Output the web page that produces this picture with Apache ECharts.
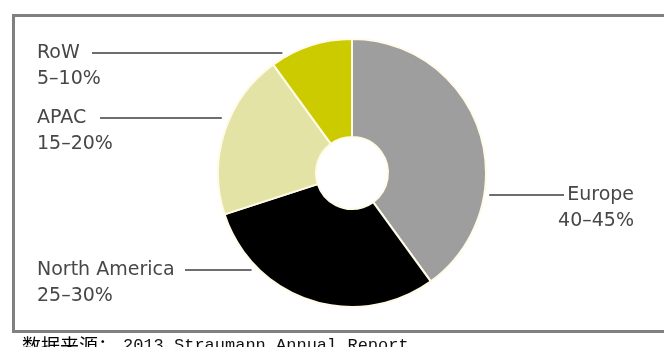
<!DOCTYPE html>
<html>
<head>
<meta charset="utf-8">
<script src="https://cdn.jsdelivr.net/npm/echarts@6/dist/echarts.min.js"></script>
<style>
  html, body { margin: 0; padding: 0; background: #ffffff; }
  #chart { width: 664px; height: 347px; }
</style>
</head>
<body>
<div id="chart"></div>
<script>
// Regional revenue split (clockwise from 12 o'clock)
const regions = ['Europe', 'North America', 'APAC', 'RoW'];
const shares = [40, 30, 20, 10];
const shareRanges = ['40–45%', '25–30%', '15–20%', '5–10%'];
const sliceColors = ['#9e9e9e', '#000000', '#e3e3a6', '#cbcb00'];
const sourcePrefix = '数据来源：';
const sourceText = '2013 Straumann Annual Report';

const CX = 352, CY = 173, R_IN = 36, R_OUT = 134;

// Callout placement per slice: side, label anchor x, leader line y, text-side end of leader
const callouts = [
  { side: 'right', x: 634, y: 195, end: 564, gap: 5 },
  { side: 'left',  x: 37,  y: 270, end: 185, gap: 8 },
  { side: 'left',  x: 37,  y: 118, end: 100, gap: 8 },
  { side: 'left',  x: 37,  y: 53,  end: 92,  gap: 10 }
];

const chart = echarts.init(document.getElementById('chart'), null, { renderer: 'canvas' });

chart.setOption({
  animation: false,
  backgroundColor: '#ffffff',
  graphic: [
    {
      type: 'rect',
      shape: { x: 13.5, y: 15.5, width: 700, height: 316 },
      style: { fill: 'none', stroke: '#808080', lineWidth: 3 },
      silent: true
    },
    {
      type: 'text',
      left: 22,
      top: 336,
      style: {
        text: '{c|' + sourcePrefix + '}{m|' + sourceText + '}',
        rich: {
          c: { fontFamily: 'Noto Sans CJK SC', fontSize: 19, fill: '#000000', width: 101 },
          m: { fontFamily: 'Liberation Mono', fontSize: 17, fill: '#111111' }
        }
      },
      silent: true
    }
  ],
  series: [{
    type: 'pie',
    center: [CX, CY],
    radius: [R_IN, R_OUT],
    startAngle: 90,
    clockwise: true,
    silent: true,
    itemStyle: { borderColor: '#fffbe8', borderWidth: 2 },
    label: {
      show: true,
      position: 'outside',
      formatter: p => p.name + '\n' + shareRanges[p.dataIndex],
      fontFamily: 'DejaVu Sans',
      fontSize: 19,
      lineHeight: 26,
      color: '#474747'
    },
    labelLine: {
      show: true,
      lineStyle: { color: '#6e6e6e', width: 2 }
    },
    labelLayout: function (params) {
      const c = callouts[params.dataIndex];
      const dy = c.y - CY;
      const dx = Math.sqrt(Math.max(R_OUT * R_OUT - dy * dy, 0));
      const start = c.side === 'right' ? CX + dx + c.gap : CX - dx - c.gap;
      const mid = (start + c.end) / 2;
      return {
        x: c.x,
        y: c.y - 13,
        align: c.side === 'right' ? 'right' : 'left',
        verticalAlign: 'top',
        labelLinePoints: [[start, c.y], [mid, c.y], [c.end, c.y]]
      };
    },
    data: regions.map((name, i) => ({
      name: name,
      value: shares[i],
      itemStyle: { color: sliceColors[i] }
    }))
  }]
});
</script>
</body>
</html>
